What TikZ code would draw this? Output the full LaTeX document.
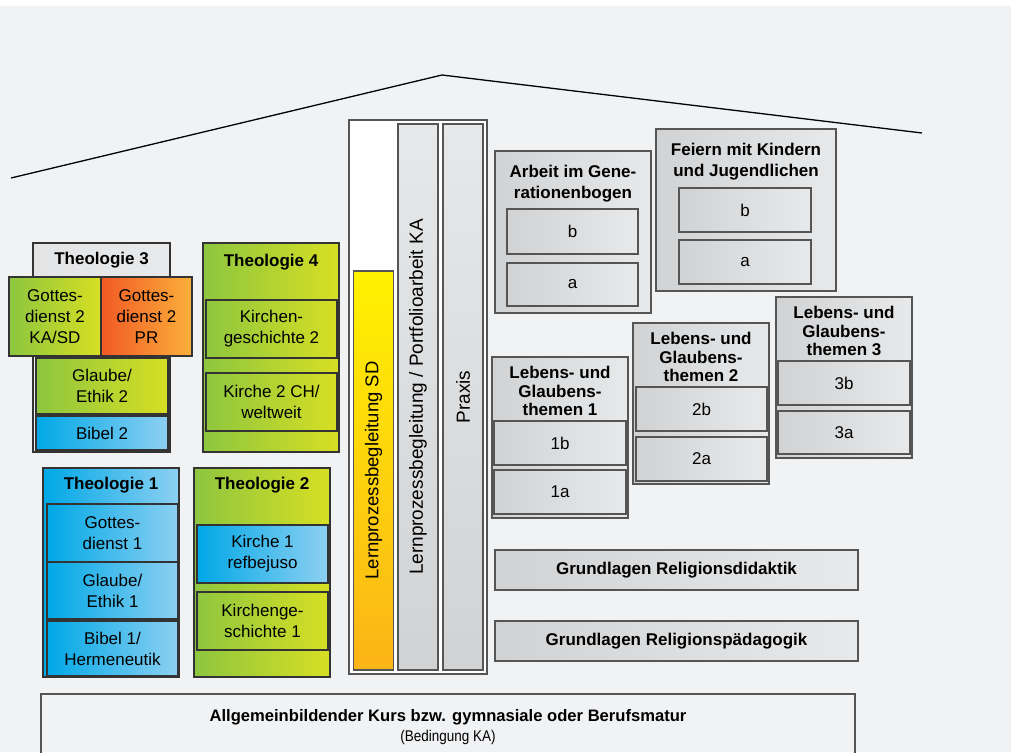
\documentclass[tikz,border=0pt]{standalone}
\usepackage{fontspec}
\setmainfont{Liberation Sans}
\newfontfamily\narrowfont[FakeStretch=0.87]{Liberation Sans}
\usetikzlibrary{positioning}

\definecolor{bgGrey}{HTML}{F1F2F4}
\definecolor{lineDark}{HTML}{333333}
\definecolor{lineGrey}{HTML}{555555}
\definecolor{greenL}{HTML}{8DC63F}
\definecolor{greenR}{HTML}{D7DF23}
\definecolor{blueL}{HTML}{00A8E6}
\definecolor{blueR}{HTML}{8DD0F2}
\definecolor{orangeL}{HTML}{F15A24}
\definecolor{orangeR}{HTML}{FBB03B}
\definecolor{yellowT}{HTML}{FFF200}
\definecolor{yellowB}{HTML}{FBB417}
\definecolor{greyL}{HTML}{D1D2D4}
\definecolor{greyR}{HTML}{E8E9EA}
\definecolor{barT}{HTML}{E7E8E9}
\definecolor{barB}{HTML}{D1D2D4}

\begin{document}
\begin{tikzpicture}[x=1pt,y=-1pt,
	box/.style={
		draw=lineDark,
		line width=1.2pt,
		inner sep=0pt,
		outer sep=0pt,
		align=center,
		anchor=north west,
		font=\fontsize{17}{21}\selectfont
	},
	greybox/.style={box,draw=lineGrey,line width=1.5pt,left color=greyL,right color=greyR},
	greenfill/.style={left color=greenL,right color=greenR},
	bluefill/.style={left color=blueL,right color=blueR},
	orangefill/.style={left color=orangeL,right color=orangeR},
	title/.style={align=center,inner sep=0pt,font=\bfseries\fontsize{17}{21}\selectfont},
	lgtitle/.style={title,font=\bfseries\fontsize{17}{18.3}\selectfont},
	bar/.style={draw=lineGrey,line width=1.2pt,inner sep=0pt,rotate=90,font=\fontsize{19}{20}\selectfont},
	roof/.style={line width=1.3pt,black}
	]
	
	\useasboundingbox (0,0) rectangle (1011,752);
	\clip (0,0) rectangle (1011,752);
	\fill[white] (0,0) rectangle (1011,752);
	\fill[bgGrey] (0,6) rectangle (1011,752);
	
	% roof
	\coordinate (eaveL) at (11,178);
	\coordinate (ridge) at (442,75);
	\coordinate (eaveR) at (922,133);
	\draw[roof] (eaveL)--(ridge)--(eaveR);
	
	% Theologie 3
	\node[box,minimum width=137,minimum height=209] (th3) at (33,243) {};
	\node[box,left color=greyL!60,right color=greyR,minimum width=137,minimum height=34,
		font=\bfseries\fontsize{17}{21}\selectfont] (th3h) at (33,243) {Theologie 3};
	\node[box,greenfill,minimum width=92,minimum height=79] (gd2ka) at (9,277)
	{Gottes-\\dienst 2\\KA/SD};
	\node[box,orangefill,minimum width=91,minimum height=79,right=0pt of gd2ka] (gd2pr)
	{Gottes-\\dienst 2\\PR};
	\node[box,greenfill,minimum width=132,minimum height=56] (ge2) at (36,358)
	{Glaube/\\Ethik 2};
	\node[box,bluefill,minimum width=132,minimum height=34,below=2pt of ge2] (bi2)
	{Bibel 2};
	
	% Theologie 4
	\node[box,greenfill,minimum width=136,minimum height=209] (th4) at (203,243) {};
	\node[title] (th4t) at (271,262) {Theologie 4};
	\node[box,minimum width=131,minimum height=58] (kg2) at (206,300)
	{Kirchen-\\geschichte 2};
	\node[box,minimum width=131,minimum height=58,below=15pt of kg2] (ki2)
	{Kirche 2 CH/\\weltweit};
	
	% Theologie 1
	\node[box,bluefill,minimum width=136,minimum height=209] (th1) at (43,468) {};
	\node[title] (th1t) at (111,485) {Theologie 1};
	\node[box,bluefill,minimum width=131,minimum height=58] (gd1) at (47,504)
	{Gottes-\\dienst 1};
	\node[box,bluefill,minimum width=131,minimum height=57,below=0pt of gd1] (ge1)
	{Glaube/\\Ethik 1};
	\node[box,bluefill,minimum width=131,minimum height=55,below=2pt of ge1] (bi1)
	{Bibel 1/\\Hermeneutik};
	
	% Theologie 2
	\node[box,greenfill,minimum width=136,minimum height=209] (th2) at (194,468) {};
	\node[title] (th2t) at (262,485) {Theologie 2};
	\node[box,bluefill,minimum width=131,minimum height=58] (ki1) at (197,525)
	{Kirche 1\\refbejuso};
	\node[box,minimum width=131,minimum height=58,below=9pt of ki1] (kg1)
	{Kirchenge-\\schichte 1};
	
	% Lernprozess
	\node[box,draw=lineGrey,fill=white,minimum width=138,minimum height=554] (lpo) at (349,120) {};
	\node[bar,top color=yellowT,bottom color=yellowB,minimum width=399,minimum height=40,
		font=\fontsize{18.5}{20}\selectfont] (lpsd)
	at (373.5,470.5) {Lernprozessbegleitung SD};
	\node[bar,top color=barT,bottom color=barB,minimum width=546,minimum height=40] (lpka)
	at (418,397) {Lernprozessbegleitung / Portfolioarbeit KA};
	\node[bar,top color=barT,bottom color=barB,minimum width=546,minimum height=40] (praxis)
	at (463,397) {Praxis};
	
	% Arbeit im Generationenbogen
	\node[greybox,minimum width=156,minimum height=162] (arb) at (495,151) {};
	\node[title] (arbt) at (573,184) {Arbeit im Gene-\\rationenbogen};
	\node[greybox,minimum width=131,minimum height=45] (arbb) at (507,209) {b};
	\node[greybox,minimum width=131,minimum height=43,below=9pt of arbb] (arba) {a};
	
	% Feiern mit Kindern
	\node[greybox,minimum width=180,minimum height=162] (fei) at (656,129) {};
	\node[title] (feit) at (746,162) {Feiern mit Kindern\\und Jugendlichen};
	\node[greybox,minimum width=132,minimum height=44] (feib) at (679,188) {b};
	\node[greybox,minimum width=132,minimum height=44,below=8pt of feib] (feia) {a};
	
	% Lebens- und Glaubensthemen
	\node[greybox,minimum width=136,minimum height=161] (lg1) at (492,357) {};
	\node[lgtitle] (lg1t) at (560,391) {Lebens- und\\Glaubens-\\themen 1};
	\node[greybox,minimum width=132,minimum height=44] (lg1b) at (494,421) {1b};
	\node[greybox,minimum width=132,minimum height=44,below=5pt of lg1b] (lg1a) {1a};
	
	\node[greybox,minimum width=136,minimum height=161] (lg2) at (633,323) {};
	\node[lgtitle] (lg2t) at (701,357) {Lebens- und\\Glaubens-\\themen 2};
	\node[greybox,minimum width=131,minimum height=44] (lg2b) at (636,387) {2b};
	\node[greybox,minimum width=131,minimum height=44,below=6pt of lg2b] (lg2a) {2a};
	
	\node[greybox,minimum width=136,minimum height=161] (lg3) at (776,297) {};
	\node[lgtitle] (lg3t) at (844,331) {Lebens- und\\Glaubens-\\themen 3};
	\node[greybox,minimum width=132,minimum height=44] (lg3b) at (778,361) {3b};
	\node[greybox,minimum width=132,minimum height=43,below=6pt of lg3b] (lg3a) {3a};
	
	% Grundlagen
	\node[greybox,minimum width=363,minimum height=40,font=\bfseries\fontsize{17}{21}\selectfont]
	(grd) at (495,550) {Grundlagen Religionsdidaktik};
	\node[greybox,minimum width=363,minimum height=40,below=31pt of grd,
		font=\bfseries\fontsize{17}{21}\selectfont] (grp) {Grundlagen Religionspädagogik};
	
	% Basis
	\node[box,draw=lineGrey,minimum width=814,minimum height=80] (base) at (41,694) {};
	\node[align=center,inner sep=0pt,font=\fontsize{16.6}{20}\selectfont] (baset) at (448,727)
	{\textbf{Allgemeinbildender Kurs bzw. gymnasiale oder Berufsmatur}\\
		{\narrowfont\fontsize{15.5}{20}\selectfont (Bedingung KA)}};
	
\end{tikzpicture}
\end{document}
